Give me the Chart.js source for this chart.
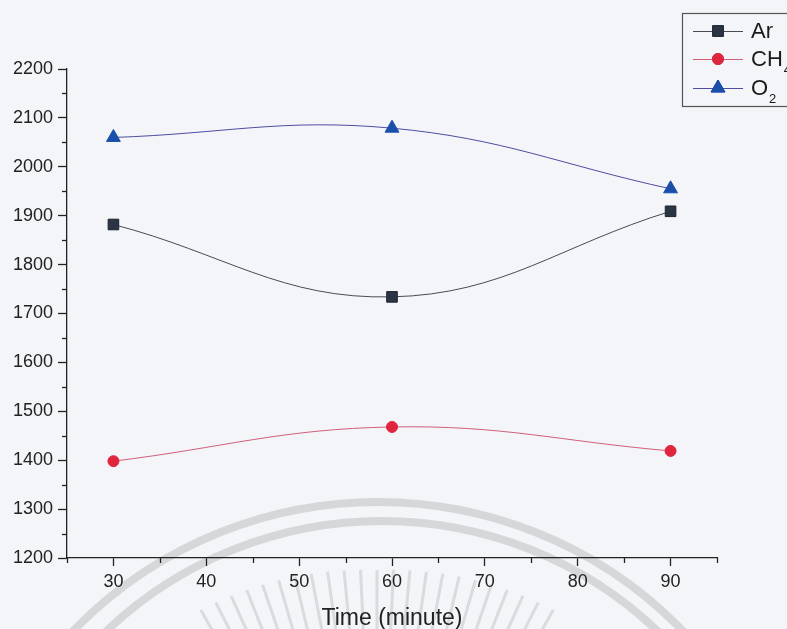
<!DOCTYPE html>
<html>
<head>
<meta charset="utf-8">
<script src="https://cdn.jsdelivr.net/npm/chart.js@4.4.1/dist/chart.umd.min.js"></script>
<style>
  html, body { margin: 0; padding: 0; background: #f3f5f9; }
  #wrap { width: 787px; height: 629px; position: relative; }
</style>
</head>
<body>
<div id="wrap"><canvas id="c" width="787" height="629"></canvas></div>
<script>
// Sampling times (minutes)
const times = [30, 60, 90];
// Measured values per gas
const arValues = [1882, 1734, 1909];
const ch4Values = [1398, 1468, 1419];
const o2Values = [2060, 2079, 1955];
// Legend / series names
const seriesNames = ['Ar', 'CH4', 'O2'];

const FONT = '"Liberation Sans", Arial, sans-serif';
const BG = '#f3f5f9';

function toPoints(vals) {
  return times.map((t, i) => ({ x: t, y: vals[i] }));
}

// Paper background with the faint seal behind the plot
const backdrop = {
  id: 'backdrop',
  beforeDraw(chart) {
    const ctx = chart.ctx;
    ctx.save();
    ctx.fillStyle = BG;
    ctx.fillRect(0, 0, chart.width, chart.height);
    ctx.strokeStyle = 'rgba(175,175,175,0.42)';
    ctx.lineWidth = 8;
    ctx.beginPath();
    ctx.arc(378, 927, 425, Math.PI, 2 * Math.PI);
    ctx.stroke();
    ctx.beginPath();
    ctx.arc(382, 921, 400, Math.PI, 2 * Math.PI);
    ctx.stroke();
    // thin rays of the seal
    ctx.lineWidth = 3;
    ctx.strokeStyle = 'rgba(175,175,175,0.38)';
    const cx = 377, cy = 920;
    for (let k = -11; k <= 11; k++) {
      const a = -Math.PI / 2 + k * 0.047;
      const r0 = 350 + Math.abs(k) * 0.6;
      ctx.beginPath();
      ctx.moveTo(cx + Math.cos(a) * r0, cy + Math.sin(a) * r0);
      ctx.lineTo(cx + Math.cos(a) * 250, cy + Math.sin(a) * 250);
      ctx.stroke();
    }
    ctx.restore();
  }
};

// Short minor ticks on both axes
const minorTicks = {
  id: 'minorTicks',
  afterDraw(chart) {
    const ctx = chart.ctx;
    const xs = chart.scales.x, ys = chart.scales.y;
    ctx.save();
    ctx.strokeStyle = '#222';
    ctx.lineWidth = 1.3;
    for (let v = xs.min; v <= xs.max; v += 5) {
      if (v % 10 === 0) continue;
      const px = Math.round(xs.getPixelForValue(v)) + 0.5;
      ctx.beginPath();
      ctx.moveTo(px, xs.top);
      ctx.lineTo(px, xs.top + 5);
      ctx.stroke();
    }
    for (let v = ys.min; v <= ys.max; v += 50) {
      if (v % 100 === 0) continue;
      const py = Math.round(ys.getPixelForValue(v)) + 0.5;
      ctx.beginPath();
      ctx.moveTo(ys.right - 5, py);
      ctx.lineTo(ys.right, py);
      ctx.stroke();
    }
    ctx.restore();
  }
};

// Boxed legend in the upper right corner
const boxLegend = {
  id: 'boxLegend',
  afterDraw(chart) {
    const ctx = chart.ctx;
    ctx.save();
    ctx.strokeStyle = '#555';
    ctx.lineWidth = 1.2;
    ctx.strokeRect(682.5, 13.5, 130, 93);
    const rows = [31, 59, 88];
    chart.data.datasets.forEach((ds, i) => {
      const y = rows[i];
      ctx.strokeStyle = ds.borderColor;
      ctx.lineWidth = 1;
      ctx.beginPath();
      ctx.moveTo(693, y + 0.5);
      ctx.lineTo(743, y + 0.5);
      ctx.stroke();
      Chart.helpers.drawPoint(ctx, {
        pointStyle: ds.pointStyle,
        radius: ds.pointRadius,
        borderWidth: 1,
        rotation: 0
      }, 718, y);
      ctx.fillStyle = ds.pointBackgroundColor;
      ctx.strokeStyle = ds.pointBorderColor;
      ctx.fill();
      ctx.stroke();
      ctx.fillStyle = '#1a1a1a';
      ctx.textBaseline = 'middle';
      ctx.font = '22px ' + FONT;
      const name = ds.label;
      const base = name.replace(/\d+$/, '');
      const sub = name.slice(base.length);
      ctx.fillText(base, 751, y + 1);
      if (sub) {
        const w = ctx.measureText(base).width;
        ctx.font = '13px ' + FONT;
        ctx.fillText(sub, 752 + w, y + 11);
      }
    });
    ctx.restore();
  }
};

new Chart(document.getElementById('c'), {
  type: 'line',
  data: {
    datasets: [
      {
        label: seriesNames[0],
        data: toPoints(arValues),
        borderColor: '#4a4a52',
        borderWidth: 1,
        pointStyle: 'rect',
        pointRadius: 7.5,
        pointBackgroundColor: '#2a3442',
        pointBorderColor: '#1d2530',
        pointBorderWidth: 1,
        tension: 0.4
      },
      {
        label: seriesNames[1],
        data: toPoints(ch4Values),
        borderColor: '#d0607a',
        borderWidth: 1,
        pointStyle: 'circle',
        pointRadius: 5.5,
        pointBackgroundColor: '#e0263f',
        pointBorderColor: '#e0263f',
        pointBorderWidth: 1,
        tension: 0.4
      },
      {
        label: seriesNames[2],
        data: toPoints(o2Values),
        borderColor: '#4d4ea0',
        borderWidth: 1,
        pointStyle: 'triangle',
        pointRadius: 8,
        pointBackgroundColor: '#1a4faa',
        pointBorderColor: '#1a4faa',
        pointBorderWidth: 1,
        tension: 0.4
      }
    ]
  },
  options: {
    responsive: false,
    animation: false,
    clip: false,
    layout: { padding: { top: 69, right: 70, left: 0, bottom: 0 } },
    plugins: { legend: { display: false }, tooltip: { enabled: false } },
    scales: {
      x: {
        type: 'linear',
        min: 25,
        max: 95,
        afterFit(s) { s.height = 71; },
        border: { display: true, color: '#222', width: 1.3 },
        grid: {
          drawOnChartArea: false,
          tickLength: 8,
          tickWidth: 1.3,
          tickColor: c => (c.tick && c.tick.value % 10 === 0 ? '#222' : 'rgba(0,0,0,0)')
        },
        ticks: {
          stepSize: 5,
          padding: 5,
          color: '#222',
          font: { family: FONT, size: 18 },
          maxRotation: 0,
          autoSkip: false,
          callback: v => (v % 10 === 0 ? String(v) : '')
        },
        title: {
          display: true,
          text: 'Time (minute)',
          color: '#222',
          font: { family: FONT, size: 23 },
          padding: { top: 0, bottom: -3 }
        }
      },
      y: {
        min: 1200,
        max: 2200,
        afterFit(s) { s.width = 67; },
        border: { display: true, color: '#222', width: 1.3 },
        grid: {
          drawOnChartArea: false,
          tickLength: 9,
          tickWidth: 1.3,
          tickColor: c => (c.tick && c.tick.value % 100 === 0 ? '#222' : 'rgba(0,0,0,0)')
        },
        ticks: {
          stepSize: 50,
          padding: 5,
          color: '#222',
          font: { family: FONT, size: 18 },
          autoSkip: false,
          callback: v => (v % 100 === 0 ? String(v) : '')
        }
      }
    }
  },
  plugins: [backdrop, minorTicks, boxLegend]
});
</script>
</body>
</html>
